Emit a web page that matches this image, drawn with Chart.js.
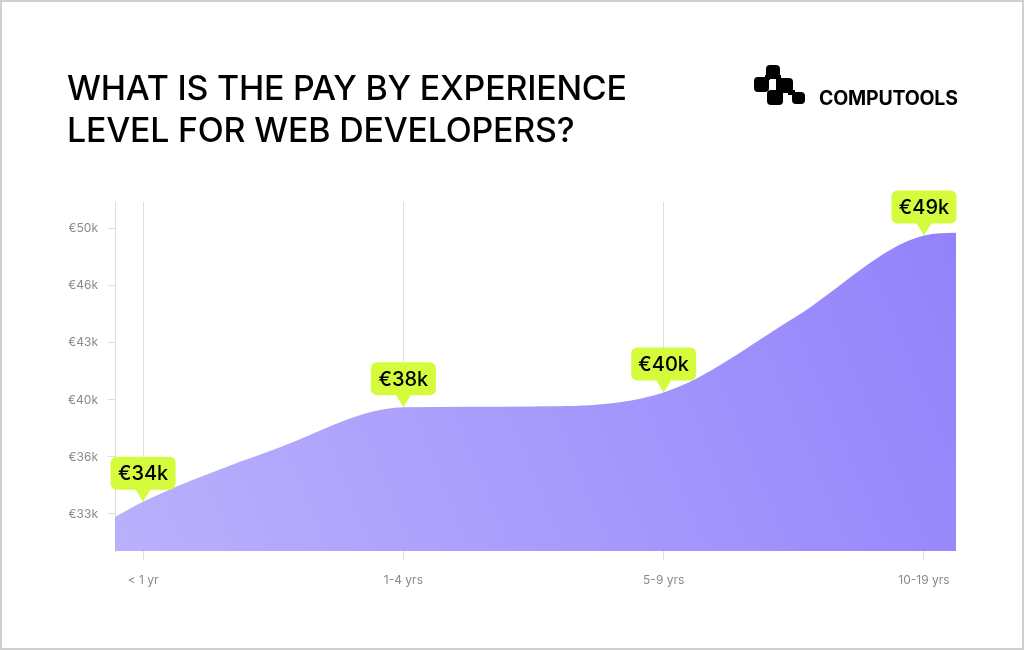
<!DOCTYPE html>
<html>
<head>
<meta charset="utf-8">
<script src="https://cdn.jsdelivr.net/npm/chart.js@4.4.0/dist/chart.umd.min.js"></script>
<style>
  html, body { margin: 0; padding: 0; background: #fff; }
  .page { position: relative; width: 1024px; height: 650px; overflow: hidden; font-family: Inter, "Noto Sans", sans-serif; }
  .frame { position: absolute; left: 0; top: 0; width: 1024px; height: 650px; box-sizing: border-box; border: 2px solid #cfcfcf; pointer-events: none; }
  #chart { position: absolute; left: 0; top: 0; }
  .title { position: absolute; left: 67px; top: 67px; font-size: 33.9px; line-height: 42px; font-weight: 500; color: #000; letter-spacing: -0.2px; }
  .logo { position: absolute; left: 754px; top: 64px; }
  .logo__text { position: absolute; left: 819px; top: 86px; font-size: 19.5px; font-weight: 700; color: #000; letter-spacing: -0.2px; }
</style>
</head>
<body>
<div class="page">
  <canvas id="chart" width="1024" height="650"></canvas>
  <div class="title">WHAT IS THE PAY BY EXPERIENCE<br>LEVEL FOR WEB DEVELOPERS?</div>
  <svg class="logo" width="54" height="42" viewBox="0 0 54 42">
    <rect x="12" y="1" width="14" height="14" rx="4" fill="#000"/>
    <rect x="0" y="13" width="15" height="15" rx="4" fill="#000"/>
    <rect x="11" y="11" width="5" height="5" fill="#000"/>
    <rect x="22" y="14" width="17" height="15" rx="4" fill="#000"/>
    <rect x="22" y="11" width="5" height="6" fill="#000"/>
    <rect x="13" y="26" width="16" height="15" rx="4" fill="#000"/>
    <rect x="22" y="24" width="7" height="6" fill="#000"/>
    <rect x="38" y="28" width="13" height="12" rx="4" fill="#000"/>
    <rect x="34" y="26" width="7" height="5" fill="#000"/>
  </svg>
  <div class="logo__text">COMPUTOOLS</div>
  <div class="frame"></div>
</div>
<script>
//data
const categories = ['< 1 yr', '1-4 yrs', '5-9 yrs', '10-19 yrs'];
const payLabels = ['€34k', '€38k', '€40k', '€49k'];
//salary in thousands of euro at each category
const payValues = [33.73, 39.36, 40.24, 49.6];
//curve read halfway between categories
const midValues = [36.82, 39.41, 44.68];
//curve value at the left and right edge of the plot
const edgeValues = [32.82, 49.76];
const tickValues = [33, 36.4, 39.8, 43.2, 46.6, 50];
const tickLabels = ['€33k', '€36k', '€40k', '€43k', '€46k', '€50k'];

//x range runs a bit past the first and last category
const xMin = -0.108;
const xMax = 3.123;

let points = [{x: xMin, y: edgeValues[0]}];
payValues.forEach(function (v, i) {
  points.push({x: i, y: v});
  if (i < midValues.length) points.push({x: i + 0.5, y: midValues[i]});
});
points.push({x: xMax, y: edgeValues[1]});

//area gradient, lighter on the left
function areaFill(context) {
  const area = context.chart.chartArea;
  if (!area) return '#a89cfb';
  const g = context.chart.ctx.createLinearGradient(area.left, area.bottom, area.right, area.top);
  g.addColorStop(0, '#b9b1fc');
  g.addColorStop(1, '#9282fb');
  return g;
}

//lime callouts over each category
const callouts = {
  id: 'callouts',
  afterDraw: function (chart) {
    const ctx = chart.ctx;
    const xs = chart.scales.x;
    const ys = chart.scales.y;
    ctx.save();
    ctx.font = '500 20px Inter, "Noto Sans", sans-serif';
    payValues.forEach(function (v, i) {
      const px = xs.getPixelForValue(i);
      const py = ys.getPixelForValue(v);
      const w = 65, h = 33, r = 6;
      const bottom = py - 12;
      const top = bottom - h;
      const left = px - w / 2;
      ctx.fillStyle = '#d5fc3c';
      ctx.beginPath();
      ctx.roundRect(left, top, w, h, r);
      ctx.fill();
      ctx.beginPath();
      ctx.moveTo(px - 8, bottom - 1);
      ctx.lineTo(px + 8, bottom - 1);
      ctx.lineTo(px, py);
      ctx.closePath();
      ctx.fill();
      ctx.fillStyle = '#000';
      ctx.textAlign = 'center';
      ctx.textBaseline = 'middle';
      ctx.fillText(payLabels[i], px, top + h / 2 + 1);
    });
    ctx.restore();
  }
};

const chart = new Chart(document.getElementById('chart'), {
  type: 'line',
  data: {
    datasets: [{
      data: points,
      fill: 'start',
      backgroundColor: areaFill,
      borderWidth: 0,
      borderColor: 'transparent',
      pointRadius: 0,
      cubicInterpolationMode: 'monotone'
    }]
  },
  options: {
    responsive: false,
    animation: false,
    layout: { padding: { top: 202, right: 68, left: 0, bottom: 0 } },
    scales: {
      x: {
        type: 'linear',
        min: xMin,
        max: xMax,
        z: 1,
        afterFit: function (s) { s.height = 99; },
        afterBuildTicks: function (s) { s.ticks = categories.map(function (c, i) { return {value: i}; }); },
        grid: { color: '#dedede', lineWidth: 1, tickLength: 9 },
        border: { display: false },
        ticks: {
          padding: 13,
          color: '#8a8a8a',
          font: { family: 'Inter', size: 12 },
          maxRotation: 0,
          callback: function (v) { return categories[v]; }
        }
      },
      y: {
        type: 'linear',
        min: 30.79,
        max: 51.6,
        afterFit: function (s) { s.width = 115; },
        afterBuildTicks: function (s) { s.ticks = tickValues.map(function (v) { return {value: v}; }); },
        grid: { drawOnChartArea: false, color: '#dddddd', tickLength: 7 },
        border: { display: true, color: '#dddddd' },
        ticks: {
          padding: 10,
          color: '#8a8a8a',
          font: { family: 'Inter', size: 12 },
          callback: function (v, i) { return tickLabels[i]; }
        }
      }
    },
    plugins: {
      legend: { display: false },
      tooltip: { enabled: false }
    }
  },
  plugins: [callouts]
});
</script>
</body>
</html>
